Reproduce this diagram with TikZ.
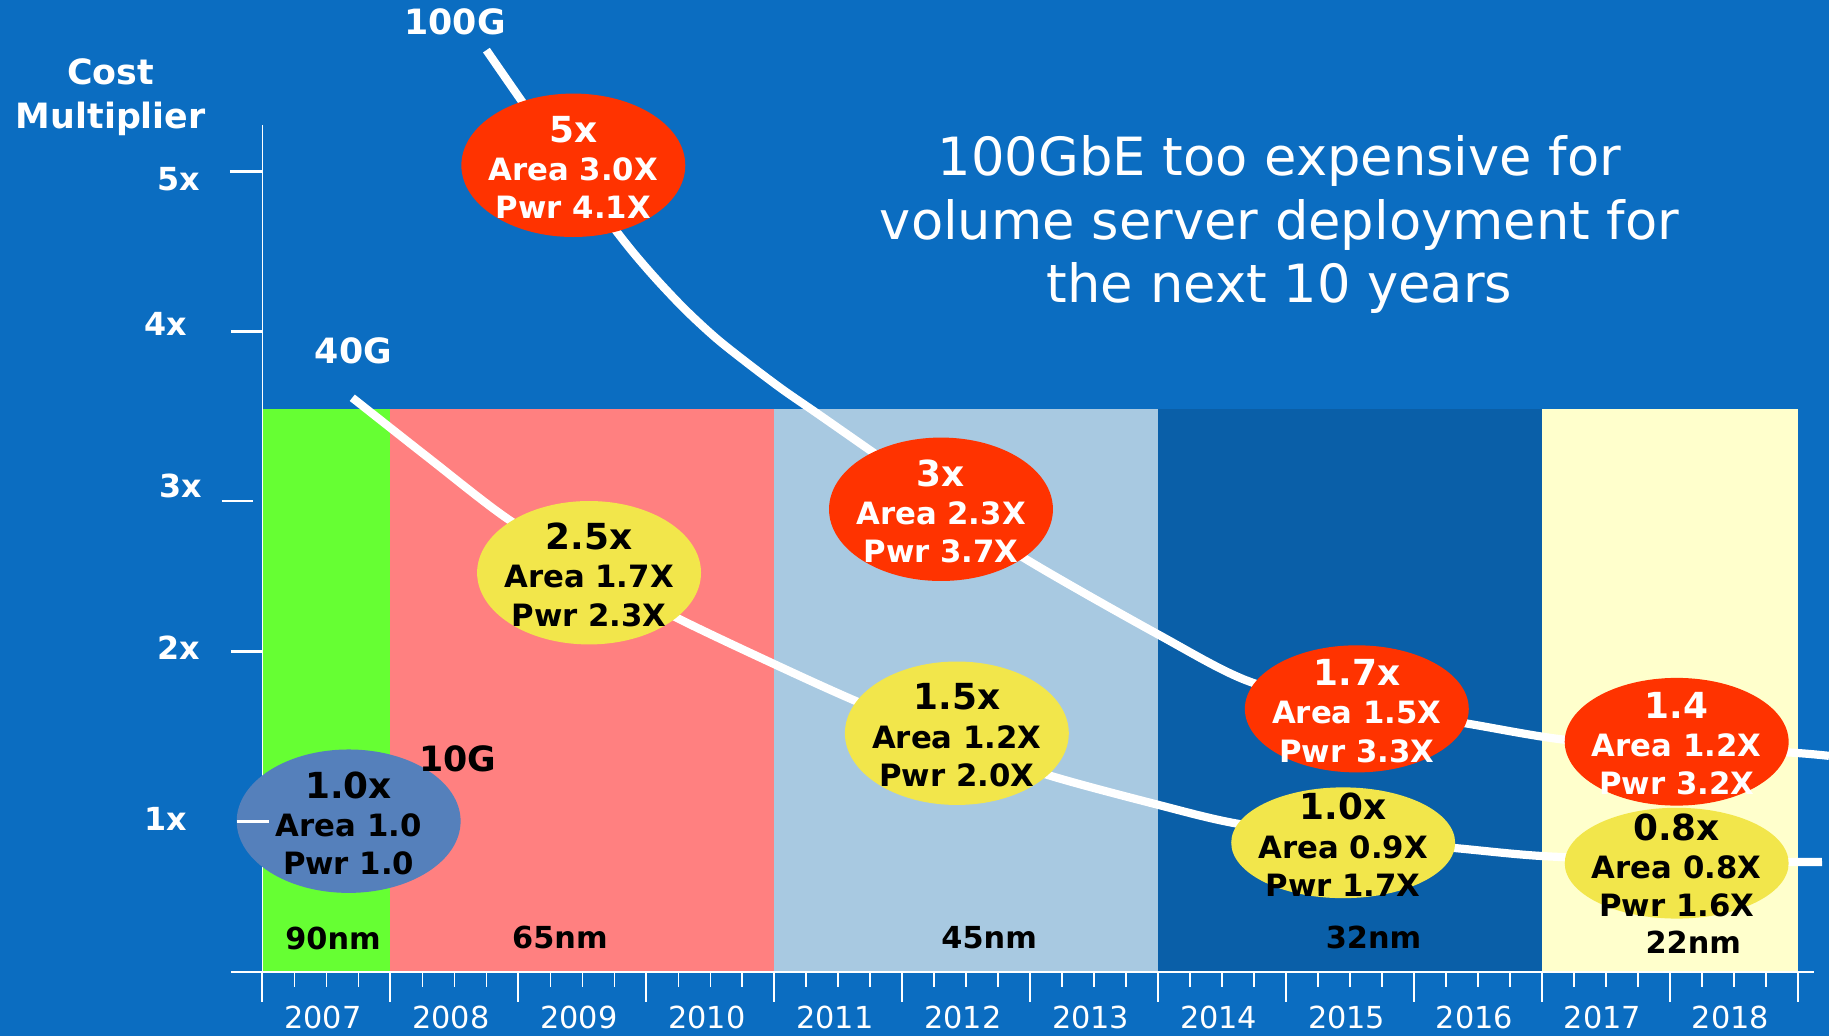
\documentclass[tikz,border=0pt]{standalone}
\usepackage{fontspec}
\setmainfont{DejaVu Sans}
\usetikzlibrary{shapes.geometric}

\definecolor{slide}{HTML}{0B6DC1}
\definecolor{deepband}{HTML}{0A5FA8}
\definecolor{g90}{HTML}{66FF33}
\definecolor{p65}{HTML}{FF8080}
\definecolor{b45}{HTML}{A8C9E1}
\definecolor{y22}{HTML}{FFFFCC}
\definecolor{hotred}{HTML}{FF3300}
\definecolor{sunyel}{HTML}{F2E64B}
\definecolor{basegray}{HTML}{5580BB}

\newcommand{\bubhead}[1]{{\fontsize{17.5}{18.7}\selectfont #1}}

\begin{document}
\begin{tikzpicture}
[x=0.02cm,y=-0.02cm,
 bubble/.style={ellipse,inner sep=0pt,minimum width=3.84cm,minimum height=2.46cm},
 hot/.style={bubble,fill=hotred},
 mild/.style={bubble,fill=sunyel},
 base/.style={bubble,fill=basegray},
 bubtext/.style={align=center,inner sep=0pt,yshift=-1pt,font=\fontsize{15}{18.7}\selectfont\bfseries},
 trend/.style={white,line width=4pt},
 ylab/.style={text=white,inner sep=0pt,anchor=base east,font=\fontsize{15.5}{18}\selectfont\bfseries},
 yrlab/.style={text=white,inner sep=0pt,anchor=base,font=\fontsize{14.8}{18}\selectfont},
 nmlab/.style={inner sep=0pt,anchor=base,font=\fontsize{14.8}{18}\selectfont\bfseries},
 speed/.style={inner sep=0pt,anchor=base,font=\fontsize{17}{20}\selectfont\bfseries},
]

%Chart frame
\def\xo{225}   % y axis
\def\yb{833}   % x axis
\def\yt{350.5} % top of the process bands
\def\yw{109.7} % one year

%Background
\useasboundingbox (0,0) rectangle (1568,888);
\fill[slide] (0,0) rectangle (1568,888);

%Process bands
\fill[g90] (\xo,\yt) rectangle (\xo+\yw,\yb);
\fill[p65] (\xo+\yw,\yt) rectangle (\xo+4*\yw,\yb);
\fill[b45] (\xo+4*\yw,\yt) rectangle (\xo+7*\yw,\yb);
\fill[deepband] (\xo+7*\yw,\yt) rectangle (\xo+10*\yw,\yb);
\fill[y22] (\xo+10*\yw,\yt) rectangle (\xo+12*\yw,\yb);

%Axes
\draw[white,line width=0.7pt] (\xo,107) -- (\xo,859);
\draw[white,line width=0.9pt] (198,\yb) -- (1555,\yb);
\draw[white,line width=1.3pt] (197,147) -- (\xo,147);
\draw[white,line width=1.3pt] (198,284) -- (\xo,284);
\draw[white,line width=1.3pt] (190,429.5) -- (216.5,429.5);
\draw[white,line width=1.3pt] (198,558.5) -- (\xo,558.5);

%Year ticks
\foreach \k in {0,...,12}
  \draw[white,line width=1pt] (\xo+\k*\yw,\yb) -- ++(0,26);
\foreach \k in {0,...,11}
  \foreach \q in {1,2,3}
    \draw[white,line width=0.8pt] (\xo+\k*\yw+\q*\yw/4,\yb) -- ++(0,13);

%Cost curves
\draw[trend] plot[smooth] coordinates {(417,43) (470,119) (529,199) (557,233) (586,264) (614,290) (643,313) (671,334) (700,354) (743,384) (806,428) (874,476) (993,544) (1073,585) (1165,605) (1256,620) (1340,634) (1437,641) (1532,645) (1568,648)};
\draw[trend] plot[smooth] coordinates {(302,341) (368,393) (434,444) (505,488) (577,528) (663,569) (736,602) (820,636) (897,664) (993,690) (1060,706) (1150,718) (1247,727) (1324,734) (1437,738) (1541,739) (1562,739)};

%Bubbles
\node[hot] (b5) at (491.5,141.7) {};
\node[mild] (b25) at (505,491) {};
\node[hot] (b3) at (806.7,436.6) {};
\node[mild] (b15) at (820.3,628.6) {};
\node[base] (b10) at (298.9,704) {};
\node[hot,minimum height=2.18cm] (b17) at (1163.2,607.7) {};
\node[mild,minimum height=1.9cm] (b10b) at (1151.5,722.5) {};
\node[mild,minimum height=1.9cm] (b08) at (1437.4,740) {};
\node[hot,minimum height=2.19cm] (b14) at (1437.4,635.9) {};

\node[bubtext,text=white] (t5) at (b5) {\bubhead{5x}\\Area 3.0X\\Pwr 4.1X};
\node[bubtext] (t25) at (b25) {\bubhead{2.5x}\\Area 1.7X\\Pwr 2.3X};
\node[bubtext,text=white] (t3) at (b3) {\bubhead{3x}\\Area 2.3X\\Pwr 3.7X};
\node[bubtext] (t15) at (b15) {\bubhead{1.5x}\\Area 1.2X\\Pwr 2.0X};
\node[bubtext] (t10) at (b10) {\bubhead{1.0x}\\Area 1.0\\Pwr 1.0};
\node[bubtext,text=white] (t17) at (b17) {\bubhead{1.7x}\\Area 1.5X\\Pwr 3.3X};
\node[bubtext] (t10b) at (b10b) {\bubhead{1.0x}\\Area 0.9X\\Pwr 1.7X};
\node[bubtext,text=white] (t14) at (b14) {\bubhead{1.4}\\Area 1.2X\\Pwr 3.2X};
\node[bubtext] (t08) at (b08) {\bubhead{0.8x}\\Area 0.8X\\Pwr 1.6X};

%1x tick sits on top of the base bubble
\draw[white,line width=1.3pt] (203,704) -- (230.6,704);

%Axis labels
\node[text=white,align=center,font=\fontsize{17}{21.9}\selectfont\bfseries] (cost) at (95,83.3) {Cost\\Multiplier};
\node[ylab] (m5) at (172.2,163.5) {5x};
\node[ylab] (m4) at (160.7,287.2) {4x};
\node[ylab] (m3) at (173.9,426.4) {3x};
\node[ylab] (m2) at (172.2,565.5) {2x};
\node[ylab] (m1) at (160.7,711.6) {1x};

\foreach \yr [count=\k from 0] in {2007,...,2018}
  \node[yrlab] (y\yr) at (\xo+\k*\yw+\yw/2-3,882) {\yr};

%Process labels
\node[nmlab] (nm90) at (285.5,813.8) {90nm};
\node[nmlab] (nm65) at (480,813.5) {65nm};
\node[nmlab] (nm45) at (848,813.5) {45nm};
\node[nmlab] (nm32) at (1177.5,813.5) {32nm};
\node[nmlab] (nm22) at (1451.6,817.7) {22nm};

%Speed labels
\node[speed,text=white] (s100) at (390,30) {100G};
\node[speed,text=white] (s40) at (303,311.5) {40G};
\node[speed] (s10) at (392.6,661.5) {10G};

%Message
\node[text=white,align=center,font=\fontsize{25.7}{30.8}\selectfont] (msg) at (1097,192.5) {100GbE too expensive for\\volume server deployment for\\the next 10 years};

\end{tikzpicture}
\end{document}
